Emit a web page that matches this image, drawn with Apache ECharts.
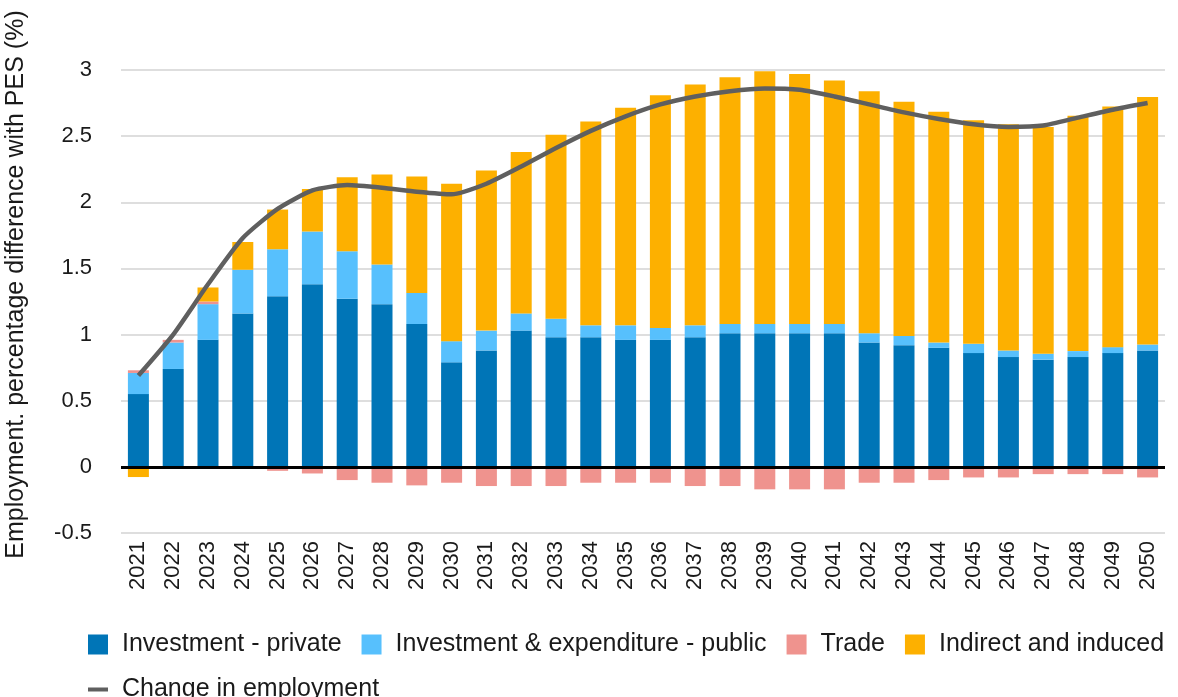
<!DOCTYPE html>
<html>
<head>
<meta charset="utf-8">
<script src="https://cdn.jsdelivr.net/npm/echarts@6/dist/echarts.min.js"></script>
<style>
html,body{margin:0;padding:0;background:#fff;}
#main{width:1178px;height:697px;}
</style>
</head>
<body>
<div id="main"></div>
<script>
var years = ['2021','2022','2023','2024','2025','2026','2027','2028','2029','2030',
	'2031','2032','2033','2034','2035','2036','2037','2038','2039','2040',
	'2041','2042','2043','2044','2045','2046','2047','2048','2049','2050'];
var invPrivate = [0.55,0.74,0.96,1.16,1.29,1.38,1.27,1.23,1.08,0.79,
	0.88,1.03,0.98,0.98,0.96,0.96,0.98,1.01,1.01,1.01,
	1.01,0.94,0.92,0.90,0.86,0.83,0.81,0.83,0.86,0.88];
var invPublic = [0.16,0.20,0.27,0.33,0.355,0.40,0.36,0.30,0.235,0.16,
	0.15,0.13,0.14,0.09,0.11,0.09,0.09,0.07,0.07,0.07,
	0.07,0.07,0.07,0.04,0.07,0.05,0.045,0.045,0.045,0.045];
var trade = [0.02,0.02,0.02,0,-0.03,-0.05,-0.10,-0.12,-0.14,-0.12,
	-0.145,-0.145,-0.145,-0.12,-0.12,-0.12,-0.145,-0.145,-0.17,-0.17,
	-0.17,-0.12,-0.12,-0.10,-0.08,-0.08,-0.055,-0.055,-0.055,-0.08];
var indirect = [-0.077,0,0.106,0.21,0.30,0.32,0.56,0.68,0.88,1.19,
	1.21,1.22,1.39,1.54,1.645,1.76,1.82,1.865,1.91,1.89,
	1.84,1.83,1.77,1.745,1.69,1.71,1.715,1.78,1.82,1.87];
var change = [0.69,1.00,1.38,1.73,1.95,2.09,2.13,2.11,2.08,2.06,
	2.14,2.27,2.41,2.54,2.65,2.74,2.80,2.84,2.86,2.85,
	2.80,2.74,2.68,2.63,2.59,2.57,2.58,2.64,2.70,2.75];

var font = 'Liberation Sans';
var txt = '#1a1a1a';

function bar(name, data, color){
	return {
		name: name,
		type: 'bar',
		stack: 'total',
		barWidth: 21,
		itemStyle: {color: color},
		data: data
	};
}

window.onload = function(){
	var myChart = echarts.init(document.getElementById('main'));
	var pri = bar('Investment - private', invPrivate, '#0075b7');
	pri.markLine = {
		silent: true,
		symbol: 'none',
		label: {show: false},
		lineStyle: {color: '#000', width: 3, type: 'solid'},
		data: [{yAxis: 0}]
	};
	var option = {
		animation: false,
		textStyle: {fontFamily: font},
		grid: {left: 121, right: 13, top: 70, bottom: 164, outerBoundsMode: 'none', containLabel: false},
		legend: {
			left: 83,
			top: 627,
			width: 1095,
			itemWidth: 20,
			itemHeight: 20,
			itemGap: 20,
			textStyle: {fontFamily: font, fontSize: 25, color: txt, padding: [0, 0, 0, 9]},
			data: [
				{name: 'Investment - private', icon: 'rect'},
				{name: 'Investment & expenditure - public', icon: 'rect'},
				{name: 'Trade', icon: 'rect'},
				{name: 'Indirect and induced', icon: 'rect'},
				{name: 'Change in employment', icon: 'path://M0,0L20,0L20,4L0,4Z'}
			]
		},
		xAxis: {
			type: 'category',
			data: years,
			axisLine: {show: false, onZero: false},
			axisTick: {show: false},
			axisLabel: {rotate: 90, margin: 8, fontSize: 22, color: txt, fontFamily: font}
		},
		yAxis: {
			type: 'value',
			min: -0.5,
			max: 3,
			interval: 0.5,
			name: 'Employment. percentage difference with PES (%)',
			nameLocation: 'middle',
			nameRotate: 90,
			nameGap: 92,
			nameTextStyle: {fontSize: 25, color: txt, fontFamily: font, padding: [0, 0, 0, 34]},
			axisLine: {show: false},
			axisTick: {show: false},
			axisLabel: {fontSize: 22, color: txt, margin: 29, fontFamily: font},
			splitLine: {lineStyle: {color: '#d3d3d3', width: 1.5}}
		},
		series: [
			pri,
			bar('Investment & expenditure - public', invPublic, '#57c0fd'),
			bar('Trade', trade, '#ef938e'),
			bar('Indirect and induced', indirect, '#fdb000'),
			{
				name: 'Change in employment',
				type: 'line',
				smooth: 0.2,
				symbol: 'none',
				z: 5,
				itemStyle: {color: '#5f5f5f'},
				lineStyle: {color: '#5f5f5f', width: 4.5},
				data: change
			}
		]
	};
	myChart.setOption(option);
};
</script>
</body>
</html>
